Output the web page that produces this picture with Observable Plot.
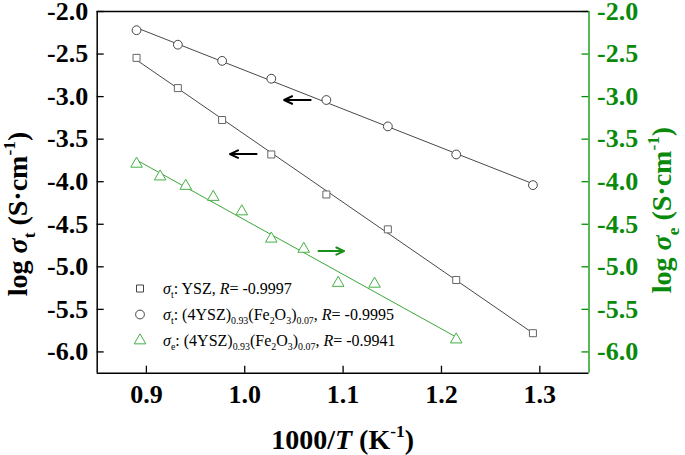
<!DOCTYPE html>
<html><head><meta charset="utf-8">
<script src="https://cdn.jsdelivr.net/npm/d3@7"></script>
<script src="https://cdn.jsdelivr.net/npm/@observablehq/plot@0.6"></script>
<style>body{margin:0;background:#fff} svg{overflow:visible} svg text{font-family:'Liberation Serif',serif}</style>
</head><body><div id="chart"></div>
<script>
// 1000/T values (K^-1)
const invT = [0.890, 0.932, 0.977, 1.027, 1.083, 1.1455, 1.215, 1.293];
const logSigmaT_YSZ = [-2.545, -2.90, -3.275, -3.68, -4.15, -4.56, -5.155, -5.78];
const logSigmaT_Fe = [-2.22, -2.39, -2.58, -2.79, -3.04, -3.35, -3.68, -4.04];
const invT_e = [0.890, 0.914, 0.940, 0.968, 0.997, 1.027, 1.060, 1.095, 1.132, 1.215];
const logSigmaE_Fe = [-3.79, -3.94, -4.05, -4.18, -4.35, -4.67, -4.79, -5.19, -5.20, -5.855];
const xTicks = [0.9, 1.0, 1.1, 1.2, 1.3];
const yTicks = [-2.0, -2.5, -3.0, -3.5, -4.0, -4.5, -5.0, -5.5, -6.0];
// arrows (annotation, data coords)
const arrowsBlack = [
  {x1: 1.067, x2: 1.040, y: -3.04},
  {x1: 1.012, x2: 0.985, y: -3.675}
];
const arrowsGreen = [{x1: 1.075, x2: 1.101, y: -4.815}];

const ysz = invT.map((x, i) => ({x, y: logSigmaT_YSZ[i]}));
const fe = invT.map((x, i) => ({x, y: logSigmaT_Fe[i]}));
const fee = invT_e.map((x, i) => ({x, y: logSigmaE_Fe[i]}));

const W = 685, H = 455, mL = 96.7, mR = 96.5, mT = 11, mB = 82.3;
const pw = W - mL - mR, ph = H - mT - mB;
const GREEN_AX = "#0a8a0a", GREEN_LINE = "#3aa83a", GREEN_PT = "#44b044";
const FONT = "'Liberation Serif', serif";
const fmt = d => d.toFixed(1);

const plot = Plot.plot({
  width: W, height: H,
  marginLeft: mL, marginRight: mR, marginTop: mT, marginBottom: mB,
  x: {domain: [0.85, 1.35]},
  y: {domain: [-6.25, -2.0]},
  style: {fontFamily: FONT, background: "white"},
  marks: [
    Plot.axisX({ticks: xTicks, tickSize: 0, tickPadding: 11, tickFormat: fmt, fontSize: 26, fontWeight: "bold", fill: "#000", label: null}),
    Plot.axisY({anchor: "left", ticks: yTicks, tickSize: 0, tickPadding: 9, tickFormat: fmt, fontSize: 26, fontWeight: "bold", fill: "#000", label: null}),
    Plot.axisY({anchor: "right", ticks: yTicks, tickSize: 0, tickPadding: 8, tickFormat: fmt, fontSize: 26, fontWeight: "bold", fill: GREEN_AX, label: null}),
    Plot.tickX(xTicks, {x: d => d, insetTop: ph - 7, stroke: "#000", strokeWidth: 1.3}),
    Plot.tickY(yTicks, {y: d => d, insetRight: pw - 7, stroke: "#000", strokeWidth: 1.3}),
    Plot.tickY(yTicks, {y: d => d, insetLeft: pw - 7, stroke: GREEN_AX, strokeWidth: 1.3}),
    Plot.ruleY([-2.0], {stroke: "#000", strokeWidth: 1.5}),
    Plot.ruleY([-6.25], {stroke: "#000", strokeWidth: 1.5}),
    Plot.ruleX([0.85], {stroke: "#000", strokeWidth: 1.5}),
    Plot.ruleX([1.35], {stroke: "#22a022", strokeWidth: 1.5}),
    Plot.linearRegressionY(ysz, {x: "x", y: "y", ci: 0, stroke: "#333", strokeWidth: 0.9}),
    Plot.linearRegressionY(fe, {x: "x", y: "y", ci: 0, stroke: "#333", strokeWidth: 0.9}),
    Plot.linearRegressionY(fee, {x: "x", y: "y", ci: 0, stroke: GREEN_LINE, strokeWidth: 1}),
    Plot.dot(ysz, {x: "x", y: "y", symbol: "square", r: 3.95, stroke: "#666", fill: "white", strokeWidth: 1}),
    Plot.dot(fe, {x: "x", y: "y", symbol: "circle", r: 4.4, stroke: "#444", fill: "white", strokeWidth: 1}),
    Plot.dot(fee, {x: "x", y: "y", symbol: "triangle", r: 4.3, stroke: GREEN_PT, fill: "white", strokeWidth: 1}),
    Plot.arrow(arrowsBlack, {x1: "x1", x2: "x2", y1: "y", y2: "y", stroke: "#000", strokeWidth: 2, headLength: 7, headAngle: 50}),
    Plot.arrow(arrowsGreen, {x1: "x1", x2: "x2", y1: "y", y2: "y", stroke: "#1a8f1a", strokeWidth: 2, headLength: 7, headAngle: 50})
  ]
});

const svg = d3.select(plot);

function richText(parent, parts, size) {
  let shift = 0;
  parts.forEach(p => {
    const ts = parent.append("tspan").text(p.t);
    if (p.i) ts.attr("font-style", "italic");
    let target = 0;
    if (p.sub) { target = size * 0.28; ts.attr("font-size", size * 0.62); }
    if (p.sup) { target = -size * 0.42; ts.attr("font-size", size * 0.62); }
    ts.attr("dy", target - shift);
    shift = target;
  });
}

// Axis labels
const lblSize = 28;
const left = svg.append("text").attr("transform", `translate(27,214) rotate(-90)`)
  .attr("text-anchor", "middle").style("font-family", FONT).attr("font-weight", "bold").attr("font-size", lblSize).attr("fill", "#000");
richText(left, [{t: "log "}, {t: "σ", i: 1}, {t: "t", sub: 1}, {t: " (S·cm"}, {t: "-1", sup: 1}, {t: ")"}], lblSize);

const right = svg.append("text").attr("transform", `translate(671,210) rotate(-90)`)
  .attr("text-anchor", "middle").style("font-family", FONT).attr("font-weight", "bold").attr("font-size", lblSize).attr("fill", GREEN_AX);
richText(right, [{t: "log "}, {t: "σ", i: 1}, {t: "e", sub: 1}, {t: " (S·cm"}, {t: "-1", sup: 1}, {t: ")"}], lblSize);

const bottom = svg.append("text").attr("x", mL + pw / 2).attr("y", 449)
  .attr("text-anchor", "middle").style("font-family", FONT).attr("font-weight", "bold").attr("font-size", lblSize).attr("fill", "#000");
richText(bottom, [{t: "1000/"}, {t: "T", i: 1}, {t: " (K"}, {t: "-1", sup: 1}, {t: ")"}], lblSize);

// Legend
const legSize = 16;
const leg = svg.append("g").style("font-family", FONT).attr("font-size", legSize).attr("fill", "#000").attr("text-anchor", "start");
const rows = [
  {sym: d3.symbolSquare, r: 3.95, stroke: "#444", y: 294,
   parts: [{t: "σ", i: 1}, {t: "t", sub: 1}, {t: ": YSZ, "}, {t: "R", i: 1}, {t: "= -0.9997"}]},
  {sym: d3.symbolCircle, r: 4.4, stroke: "#444", y: 320,
   parts: [{t: "σ", i: 1}, {t: "t", sub: 1}, {t: ": (4YSZ)"}, {t: "0.93", sub: 1}, {t: "(Fe"}, {t: "2", sub: 1}, {t: "O"}, {t: "3", sub: 1}, {t: ")"}, {t: "0.07", sub: 1}, {t: ", "}, {t: "R", i: 1}, {t: "= -0.9995"}]},
  {sym: d3.symbolTriangle, r: 4.3, stroke: GREEN_PT, y: 346,
   parts: [{t: "σ", i: 1}, {t: "e", sub: 1}, {t: ": (4YSZ)"}, {t: "0.93", sub: 1}, {t: "(Fe"}, {t: "2", sub: 1}, {t: "O"}, {t: "3", sub: 1}, {t: ")"}, {t: "0.07", sub: 1}, {t: ", "}, {t: "R", i: 1}, {t: "= -0.9941"}]}
];
rows.forEach(row => {
  leg.append("path").attr("d", d3.symbol(row.sym, Math.PI * row.r * row.r)())
    .attr("transform", `translate(140,${row.y - 5.5})`).attr("fill", "white").attr("stroke", row.stroke).attr("stroke-width", 1);
  const t = leg.append("text").attr("x", 163).attr("y", row.y).attr("text-anchor", "start");
  richText(t, row.parts, legSize);
});

document.getElementById("chart").appendChild(plot);
</script>
</body></html>
